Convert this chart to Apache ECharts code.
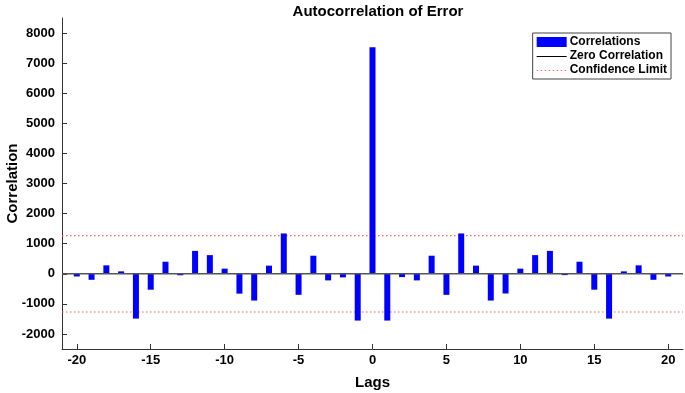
<!DOCTYPE html>
<html><head><meta charset="utf-8">
<script src="https://cdn.jsdelivr.net/npm/echarts@6/dist/echarts.min.js"></script>
<style>html,body{margin:0;padding:0;background:#fff}#c{width:685px;height:393px}</style>
</head><body><div id="c"></div>
<script>
const lags = [-20,-19,-18,-17,-16,-15,-14,-13,-12,-11,-10,-9,-8,-7,-6,-5,-4,-3,-2,-1,0,1,2,3,4,5,6,7,8,9,10,11,12,13,14,15,16,17,18,19,20];
const correlations = [-90,-200,280,80,-1490,-530,400,-50,760,620,170,-660,-890,270,1340,-700,600,-220,-120,-1555,7530,-1555,-110,-220,600,-700,1340,270,-890,-655,170,620,760,-45,400,-530,-1490,80,280,-200,-90];
const confidenceLimit = 1270;
const xTicks = [-20,-15,-10,-5,0,5,10,15,20];
const yTicks = [-2000,-1000,0,1000,2000,3000,4000,5000,6000,7000,8000];
const xRange = [-21, 21];
const yRange = [-2500, 8500];

const font = 'Liberation Sans, Arial, sans-serif';
const chart = echarts.init(document.getElementById('c'));
chart.setOption({
  animation: false,
  title: {text: 'Autocorrelation of Error', left: 373, textAlign: 'center', top: -1,
    textStyle: {fontFamily: font, fontWeight: 'bold', fontSize: 15, color: '#000'}},
  grid: {left: 62, right: 2, top: 18, bottom: 44, containLabel: false, outerBoundsMode: 'none'},
  legend: {
    orient: 'vertical', right: 14, top: 33, itemGap: 2, itemWidth: 30, itemHeight: 10,
    borderColor: '#444', borderWidth: 1, padding: [3, 4, 3, 4], backgroundColor: '#fff',
    textStyle: {fontFamily: font, fontWeight: 'bold', fontSize: 12, color: '#000', padding: [0,0,0,-2]},
    data: [
      {name: 'Correlations', icon: 'rect'},
      {name: 'Zero Correlation', icon: 'none'},
      {name: 'Confidence Limit', icon: 'none'}
    ]
  },
  graphic: [],
  xAxis: {
    type: 'value', min: xRange[0], max: xRange[1],
    name: 'Lags', nameLocation: 'middle', nameGap: 26, nameMoveOverlap: false,
    nameTextStyle: {fontFamily: font, fontWeight: 'bold', fontSize: 15, color: '#000'},
    axisLine: {onZero: false, lineStyle: {color: '#333', width: 1}},
    axisTick: {inside: true, length: 5, customValues: xTicks, lineStyle: {color: '#333'}},
    axisLabel: {customValues: xTicks, margin: 5, fontFamily: font, fontWeight: 'bold', fontSize: 13, color: '#000',
      formatter: v => String(v)},
    splitLine: {show: false}
  },
  yAxis: {
    type: 'value', min: yRange[0], max: yRange[1],
    name: 'Correlation', nameLocation: 'middle', nameGap: 42, nameRotate: 90, nameMoveOverlap: false,
    nameTextStyle: {fontFamily: font, fontWeight: 'bold', fontSize: 15, color: '#000'},
    axisLine: {show: true, onZero: false, lineStyle: {color: '#333', width: 1}},
    axisTick: {show: true, inside: true, length: 5, customValues: yTicks, lineStyle: {color: '#333'}},
    axisLabel: {customValues: yTicks, margin: 7, fontFamily: font, fontWeight: 'bold', fontSize: 13, color: '#000',
      formatter: v => String(v)},
    splitLine: {show: false}
  },
  series: [
    {name: 'Correlations', type: 'bar', barWidth: 6, itemStyle: {color: '#0000ff'},
     data: lags.map((l, i) => [l, correlations[i]]), z: 2},
    {name: 'Zero Correlation', type: 'line', symbol: 'none', showSymbol: false, color: '#000',
     lineStyle: {color: '#555', width: 1.5}, data: [[xRange[0], 0], [xRange[1], 0]], z: 3},
    {name: 'Confidence Limit', type: 'line', symbol: 'none', showSymbol: false, color: '#ff3333',
     lineStyle: {color: '#ff5c5c', width: 1.2, type: [1.5, 2.5]}, data: [[xRange[0], confidenceLimit], [xRange[1], confidenceLimit]], z: 1},
    {name: 'Confidence Limit', type: 'line', symbol: 'none', showSymbol: false, color: '#ff3333',
     lineStyle: {color: '#ff5c5c', width: 1.2, type: [1.5, 2.5]}, data: [[xRange[0], -confidenceLimit], [xRange[1], -confidenceLimit]], z: 1}
  ]
});
// legend line icons, positioned from the rendered legend items
(function () {
  const view = chart.getViewOfComponentModel(chart.getModel().getComponent('legend'));
  const g = [];
  let rows = [];
  view && view.group && view.group.traverse(el => {
    if (el.type === 'text' || (el.style && el.style.text)) {
      const r = el.getBoundingRect();
      const t = el.transformCoordToGlobal ? el.transformCoordToGlobal(r.x, r.y + r.height / 2) : [r.x, r.y + r.height / 2];
      rows.push({text: el.style.text, x: t[0], y: t[1]});
    }
  });
  const find = name => rows.find(r => r.text === name);
  const z = find('Zero Correlation'), c = find('Confidence Limit');
  if (z) g.push({type: 'line', z: 100, shape: {x1: z.x - 33, y1: Math.round(z.y) + 0.5, x2: z.x - 3, y2: Math.round(z.y) + 0.5},
    style: {stroke: '#000', lineWidth: 1}});
  if (c) g.push({type: 'line', z: 100, shape: {x1: c.x - 33, y1: Math.round(c.y) + 0.5, x2: c.x - 3, y2: Math.round(c.y) + 0.5},
    style: {stroke: '#ff5c5c', lineWidth: 1, lineDash: [1.5, 2.5]}});
  chart.setOption({graphic: g});
})();
</script></body></html>
